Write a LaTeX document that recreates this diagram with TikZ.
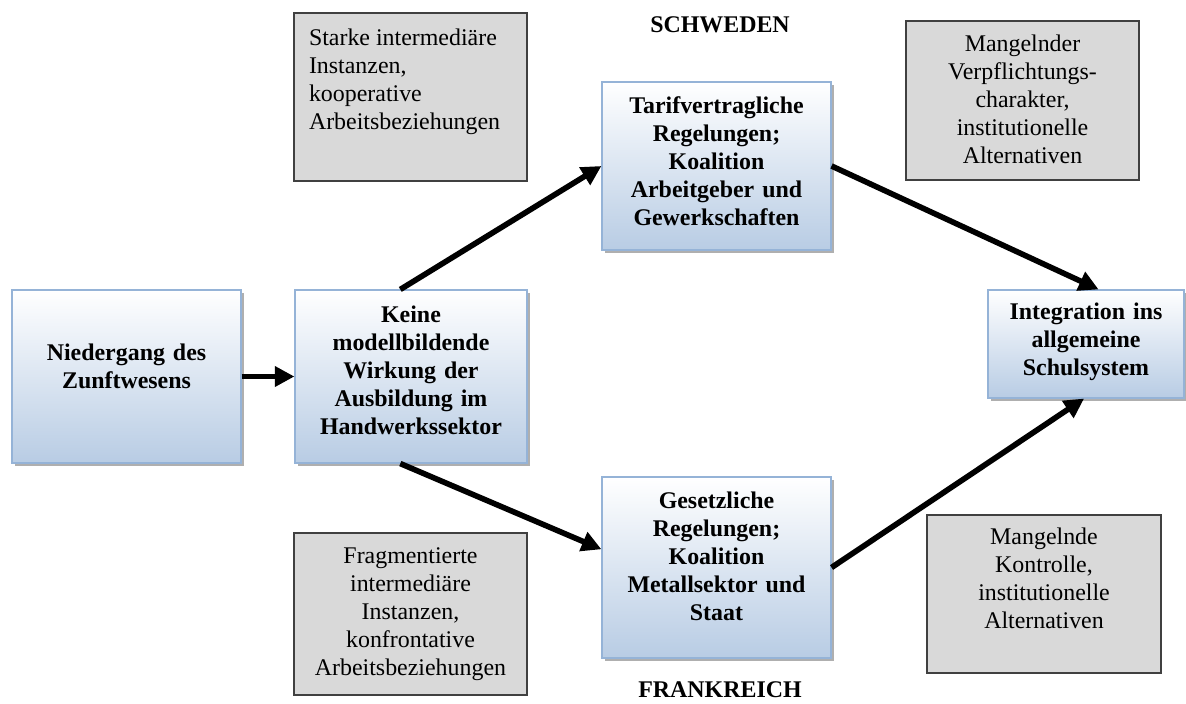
\documentclass[tikz,border=0pt]{standalone}
\usepackage{fontspec}
\setmainfont{Liberation Serif}
\usepackage{xcolor}
\definecolor{Col1}{RGB}{149,179,215}
\definecolor{Col2}{RGB}{184,204,228}
\definecolor{Col3}{RGB}{217,217,217}
\definecolor{Col4}{RGB}{64,64,64}
\usepackage{tikz}
\usetikzlibrary{arrows.meta}
\usetikzlibrary{shadows}
\tikzstyle{Box}=[draw=Col1,line width=0.8pt,top color=white,bottom color=Col2,
  drop shadow={shadow xshift=2pt,shadow yshift=-2pt,fill=black!35,opacity=0.9},
  inner sep=0pt,align=center,font=\fontsize{17}{20}\selectfont\bfseries]
\tikzstyle{Note}=[draw=Col4,line width=1pt,fill=Col3,inner sep=0pt,
  align=center,font=\fontsize{17}{20}\selectfont]
\tikzstyle{Country}=[font=\fontsize{17}{20}\selectfont\bfseries]
\tikzstyle{Edge}=[line width=4pt,-{Triangle[length=14pt,width=14pt]}]
\tikzset{Dim/.style n args={3}{text width=#1*0.025cm,
    text height=#3*0.025cm,text depth=(#2-#3)*0.025cm}}

\begin{document}
\begin{tikzpicture}[x=0.025cm,y=-0.025cm]
        \useasboundingbox (0,0) rectangle (1186,704);
        \node[Box,Dim={229}{173}{70}](niedergang)at(126.5,376.5)
            {Niedergang des\\Zunftwesens};
        \node[Box,Dim={232}{173}{32}](keine)at(411,376.5)
            {Keine\\modellbildende\\Wirkung der\\Ausbildung im\\Handwerkssektor};
        \node[Box,Dim={229}{168}{31}](tarif)at(716.5,166)
            {Tarifvertragliche\\Regelungen;\\Koalition\\Arbeitgeber und\\Gewerkschaften};
        \node[Box,Dim={229}{181}{31}](gesetz)at(716.5,567.5)
            {Gesetzliche\\Regelungen;\\Koalition\\Metallsektor und\\Staat};
        \node[Box,Dim={196}{108}{29}](integration)at(1086,344)
            {Integration ins\\allgemeine\\Schulsystem};
        \node[Note,align=flush left,inner xsep=15*0.025cm,Dim={203}{168}{32}](starke)
            at(410.5,97){Starke intermediäre\\Instanzen,\\kooperative\\Arbeitsbeziehungen};
        \node[Note,Dim={233}{159}{30}](mangelnder)at(1022.5,100.5)
            {Mangelnder\\Verpflichtungs-\\charakter,\\institutionelle\\Alternativen};
        \node[Note,Dim={233}{162}{30}](fragment)at(410.5,614)
            {Fragmentierte\\intermediäre\\Instanzen,\\konfrontative\\Arbeitsbeziehungen};
        \node[Note,Dim={234}{158}{29}](mangelnde)at(1044,594)
            {Mangelnde\\Kontrolle,\\institutionelle\\Alternativen};
        \node[Country](schweden)at(720,25){SCHWEDEN};
        \node[Country](frankreich)at(720,690){FRANKREICH};
        \draw[Edge](niedergang.east)--(keine.west);
        \draw[Edge](keine.97)--(tarif.west);
        \draw[Edge](keine.263)--(gesetz.171);
        \draw[Edge](tarif.east)--(integration.77);
        \draw[Edge](gesetz.east)--(integration.268);
\end{tikzpicture}
\end{document}
